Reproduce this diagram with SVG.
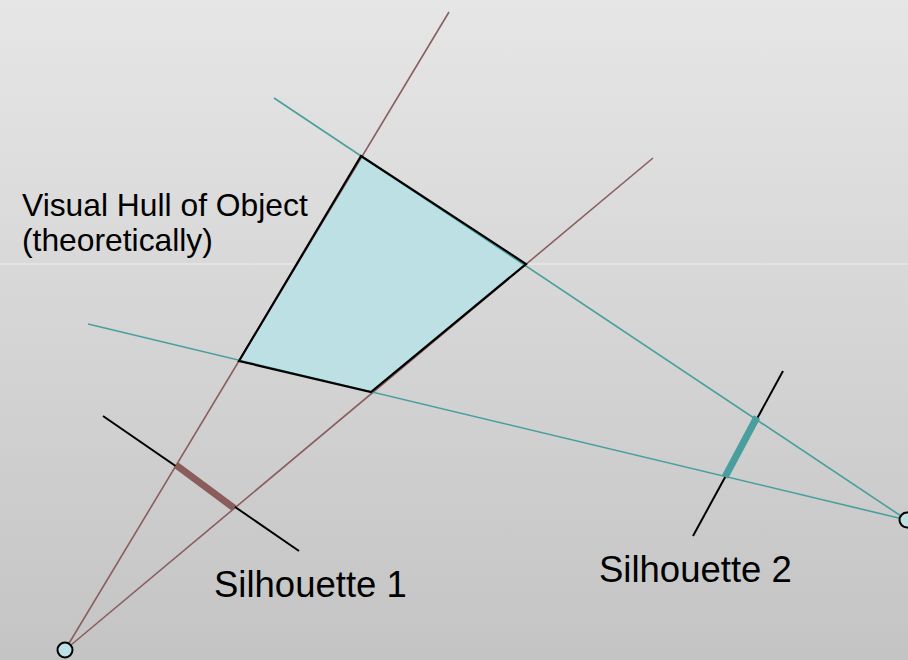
<svg xmlns="http://www.w3.org/2000/svg" width="908" height="660" viewBox="0 0 908 660">
<defs>
<linearGradient id="bg" x1="0" y1="0" x2="0" y2="1">
<stop offset="0" stop-color="#e6e6e6"/>
<stop offset="1" stop-color="#c4c4c4"/>
</linearGradient>
<style>
.ray1{stroke:#8a5e5e;stroke-width:1.6;fill:none}
.ray2{stroke:#4a9e9e;stroke-width:1.6;fill:none}
.plane{stroke:#000;stroke-width:2;fill:none}
.sil1{stroke:#8a5c5c;stroke-width:7;fill:none}
.sil2{stroke:#4a9e9e;stroke-width:7;fill:none}
.cam{fill:#bde0e4;stroke:#000;stroke-width:2}
.lbl{font-family:"Liberation Sans",Arial,sans-serif;fill:#000}
</style>
</defs>
<rect x="0" y="0" width="908" height="660" fill="url(#bg)"/>
<line x1="0" y1="264" x2="908" y2="264" stroke="#ffffff" stroke-opacity="0.6" stroke-width="1"/>
<g id="hull">
<polygon points="361,156 526,264 371,392 239,361" fill="#bce0e4" stroke="none"/>
</g>
<g id="connectors">
<line class="ray1" x1="65" y1="650" x2="449" y2="12"/>
<line class="ray1" x1="65" y1="650" x2="653" y2="158"/>
<line class="ray2" x1="907" y1="520" x2="274" y2="98"/>
<line class="ray2" x1="907" y1="520" x2="88" y2="324"/>
</g>
<g id="hull-outline">
<polygon points="361,156 526,264 371,392 239,361" fill="none" stroke="#000" stroke-width="2.2"/>
</g>
<g id="silhouette1">
<line class="plane" x1="103" y1="416" x2="299" y2="551"/>
<line class="sil1" x1="176" y1="465" x2="234" y2="508"/>
<text class="lbl" x="214" y="597" font-size="36.5">Silhouette 1</text>
</g>
<g id="silhouette2">
<line class="plane" x1="783" y1="371" x2="693" y2="536"/>
<line class="sil2" x1="757" y1="417" x2="725" y2="477"/>
<text class="lbl" x="599" y="582" font-size="36.5">Silhouette 2</text>
</g>
<g id="camera1">
<circle class="cam" cx="65" cy="650" r="7.5"/>
</g>
<g id="camera2">
<circle class="cam" cx="907" cy="520" r="7.5"/>
</g>
<g id="label">
<text class="lbl" x="22" y="216" font-size="31.8">Visual Hull of Object</text>
<text class="lbl" x="22" y="251" font-size="31.8">(theoretically)</text>
</g>
</svg>
